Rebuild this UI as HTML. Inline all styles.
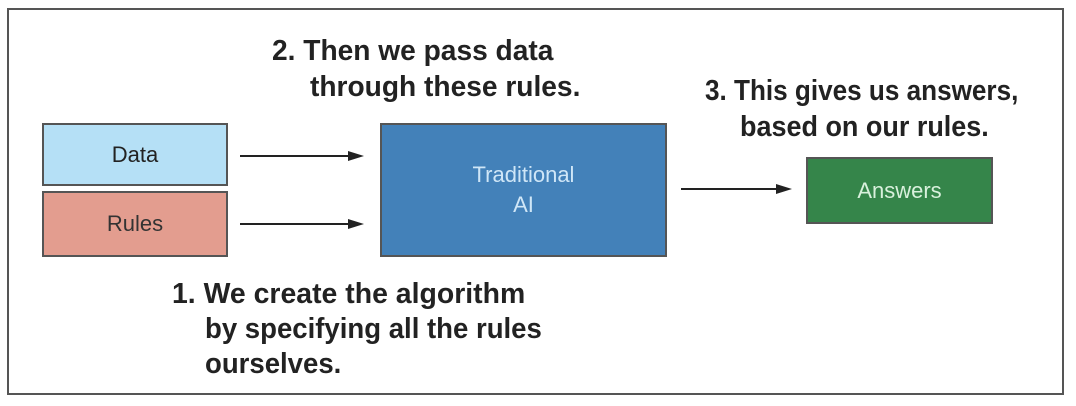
<!DOCTYPE html>
<html><head><meta charset="utf-8"><style>
body{margin:0;width:1076px;height:406px;background:#fff;position:relative;overflow:hidden;font-family:"Liberation Sans",sans-serif}
.frame{position:absolute;left:7px;top:8px;width:1057px;height:387px;border:2px solid #555;box-sizing:border-box}
.box{position:absolute;border:2px solid #555;box-sizing:border-box;display:flex;align-items:center;justify-content:center;text-align:center;font-size:22px;line-height:30px}
.t{position:absolute;font-family:"Liberation Sans Narrow","Liberation Sans",sans-serif;font-weight:bold;font-size:29px;color:#222;white-space:nowrap;line-height:36px;transform-origin:0 50%}
</style></head><body>
<div class="frame"></div>
<div class="box" style="left:42px;top:123px;width:186px;height:63px;background:#b5e0f6;color:#222">Data</div>
<div class="box" style="left:42px;top:191px;width:186px;height:66px;background:#e39d8f;color:#333">Rules</div>
<div class="box" style="left:380px;top:123px;width:287px;height:134px;background:#4381b9;color:#cfe6f7">Traditional<br>AI</div>
<div class="box" style="left:806px;top:157px;width:187px;height:67px;background:#35854a;color:#d8f0dc">Answers</div>
<svg width="1076" height="406" style="position:absolute;left:0;top:0">
<g stroke="#222" stroke-width="2"><line x1="240" y1="156" x2="350" y2="156"/><line x1="240" y1="224" x2="350" y2="224"/><line x1="681" y1="189" x2="778" y2="189"/></g>
<g fill="#222"><polygon points="348,151 364,156 348,161"/><polygon points="348,219 364,224 348,229"/><polygon points="776,184 792,189 776,194"/></g>
</svg>
<div class="t" style="left:272px;top:33px;transform:scaleX(0.97)">2. Then we pass data</div>
<div class="t" style="left:310px;top:69px;transform:scaleX(0.97)">through these rules.</div>
<div class="t" style="left:705px;top:73px;transform:scaleX(0.9)">3. This gives us answers,</div>
<div class="t" style="left:740px;top:109px;transform:scaleX(0.93)">based on our rules.</div>
<div class="t" style="left:172px;top:276px;transform:scaleX(0.98)">1. We create the algorithm</div>
<div class="t" style="left:205px;top:311px;transform:scaleX(0.95)">by specifying all the rules</div>
<div class="t" style="left:205px;top:346px;transform:scaleX(0.95)">ourselves.</div>
</body></html>
